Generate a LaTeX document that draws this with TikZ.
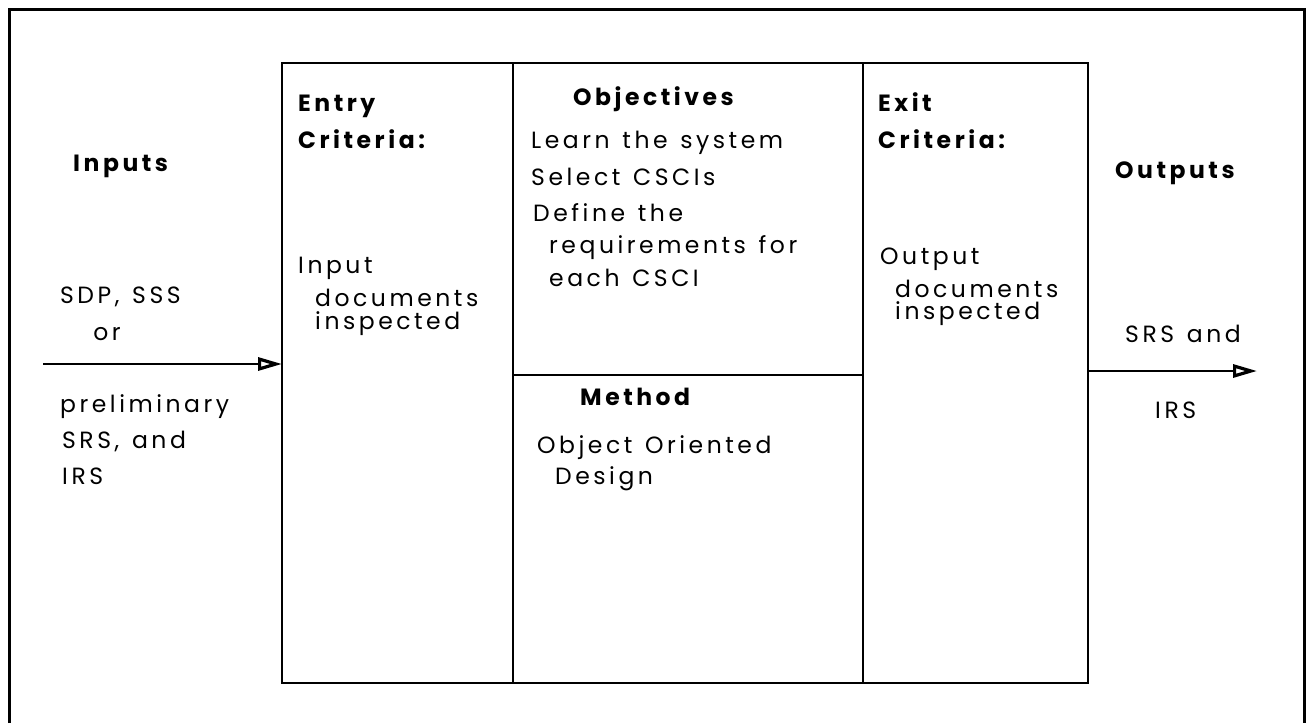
\documentclass[tikz,border=0pt]{standalone}
\usepackage{fontspec}
\setmainfont{Poppins}[LetterSpace=15,WordSpace=1.3]
\usetikzlibrary{arrows.meta}
\begin{document}
\begin{tikzpicture}[x=1pt,y=-1pt,
  lbl/.style={anchor=base west,inner sep=0pt,font=\fontsize{23.5}{26}\selectfont},
  hdr/.style={lbl,font=\fontsize{23.5}{26}\selectfont\bfseries},
  col/.style={draw,line width=2.6pt,minimum width=#1,inner sep=0pt,outer sep=0pt},
  arr/.style={line width=1.8pt,-{Triangle[open,length=24pt,width=13pt,line width=3.2pt]}}]
\useasboundingbox (0,0) rectangle (1309,723);
% outer frame
\coordinate (fbl) at (9,723);
\coordinate (ftl) at (9,9);
\coordinate (ftr) at (1304,9);
\coordinate (fbr) at (1304,723);
\draw[line width=3pt] (fbl) -- (ftl) -- (ftr) -- (fbr);
% columns
\node[col=231pt,minimum height=620pt] (entry) at (397.5,373) {};
\node[col=350pt,minimum height=312pt] (obj) at (688,219) {};
\node[col=350pt,minimum height=308pt] (meth) at (688,529) {};
\node[col=225pt,minimum height=620pt] (exit) at (975.5,373) {};
% arrows
\coordinate (inS) at (43,364);
\draw[arr] (inS) -- (inS -| entry.west);
\coordinate (outE) at (1257,371);
\draw[arr] (outE -| exit.east) -- (outE);
% left texts
\node[hdr] (tinputs) at (73,171) {Inputs};
\node[lbl] (t1) at (60,303) {SDP, SSS};
\node[lbl,anchor=base] (t2) at (107,340) {or};
\node[lbl] (t3) at (60,412) {preliminary};
\node[lbl] (t4) at (62,448) {SRS, and};
\node[lbl] (t5) at (62,484) {IRS};
% entry
\node[hdr] (e1) at (298,111) {Entry};
\node[hdr] (e2) at (298,148) {Criteria:};
\node[lbl] (e3) at (298,273) {Input};
\node[lbl] (e4) at (315,306) {documents};
\node[lbl] (e5) at (315,329) {inspected};
% objectives
\node[hdr] (o1) at (573,105) {Objectives};
\node[lbl] (o2) at (531,148) {Learn the system};
\node[lbl] (o3) at (531,185) {Select CSCIs};
\node[lbl] (o4) at (533,221) {Define the};
\node[lbl] (o5) at (549,253) {requirements for};
\node[lbl] (o6) at (549,286) {each CSCI};
% method
\node[hdr] (m1) at (580,405) {Method};
\node[lbl] (m2) at (537,453) {Object Oriented};
\node[lbl] (m3) at (555,484) {Design};
% exit
\node[hdr] (x1) at (878,111) {Exit};
\node[hdr] (x2) at (878,148) {Criteria:};
\node[lbl] (x3) at (880,264) {Output};
\node[lbl] (x4) at (895,297) {documents};
\node[lbl] (x5) at (895,319) {inspected};
% outputs
\node[hdr] (tout) at (1115,178) {Outputs};
\node[lbl] (r1) at (1125,342) {SRS and};
\node[lbl] (r2) at (1155,418) {IRS};
\end{tikzpicture}
\end{document}
